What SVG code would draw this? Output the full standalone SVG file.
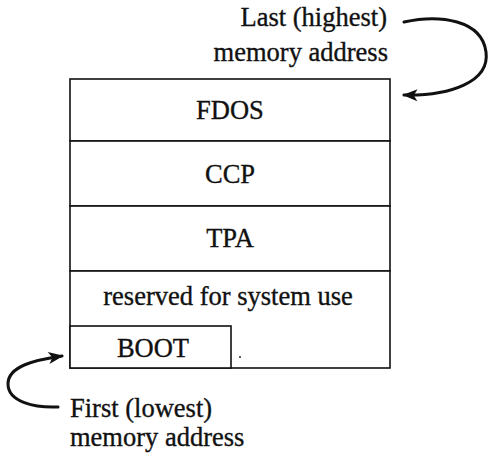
<svg xmlns="http://www.w3.org/2000/svg" width="491" height="457" viewBox="0 0 491 457">
  <style>
    .box { fill: #fff; stroke: #111; stroke-width: 1.6; }
    .lbl { font-family: 'Liberation Serif', 'Times New Roman', serif; font-size: 26.5px; fill: #111; stroke: #111; stroke-width: 0.35; }
    .mid { text-anchor: middle; }
    .conn { fill: none; stroke: #111; stroke-width: 3; stroke-linecap: round; }
  </style>
  <defs>
    <marker id="head" viewBox="0 0 10 10" refX="9" refY="5" markerWidth="5.5" markerHeight="5" orient="auto" markerUnits="strokeWidth">
      <path d="M0,1 L10,5 L0,9 L2.5,5 Z" fill="#111"/>
    </marker>
  </defs>

  <rect width="491" height="457" fill="#fff"/>

  <!-- memory map -->
  <g id="fdos">
    <rect class="box" x="70" y="79" width="320" height="62"/>
    <text class="lbl mid" x="230" y="119">FDOS</text>
  </g>
  <g id="ccp">
    <rect class="box" x="70" y="141" width="320" height="65"/>
    <text class="lbl mid" x="230" y="183">CCP</text>
  </g>
  <g id="tpa">
    <rect class="box" x="70" y="206" width="320" height="65"/>
    <text class="lbl mid" x="230" y="247">TPA</text>
  </g>
  <g id="reserved">
    <rect class="box" x="70" y="271" width="320" height="97"/>
    <text class="lbl mid" x="228" y="305">reserved for system use</text>
    <circle cx="240" cy="357" r="0.9" fill="#111"/>
  </g>
  <g id="boot">
    <rect class="box" x="70" y="326" width="161" height="42"/>
    <text class="lbl mid" x="153" y="357">BOOT</text>
  </g>

  <!-- address labels -->
  <g id="high-label">
    <text class="lbl" x="387" y="26" text-anchor="end">Last (highest)</text>
    <text class="lbl" x="388" y="61" text-anchor="end">memory address</text>
  </g>
  <g id="low-label">
    <text class="lbl" x="70" y="417">First (lowest)</text>
    <text class="lbl" x="70" y="446">memory address</text>
  </g>

  <!-- pointer arrows -->
  <g id="connectors">
    <path class="conn" marker-end="url(#head)" d="M404,22 C440,14 482,20 486,52 C490,82 450,96 404,95"/>
    <path class="conn" marker-end="url(#head)" d="M58,407 C35,408 8,402 8,384 C8,366 35,360 62,356"/>
  </g>
</svg>
